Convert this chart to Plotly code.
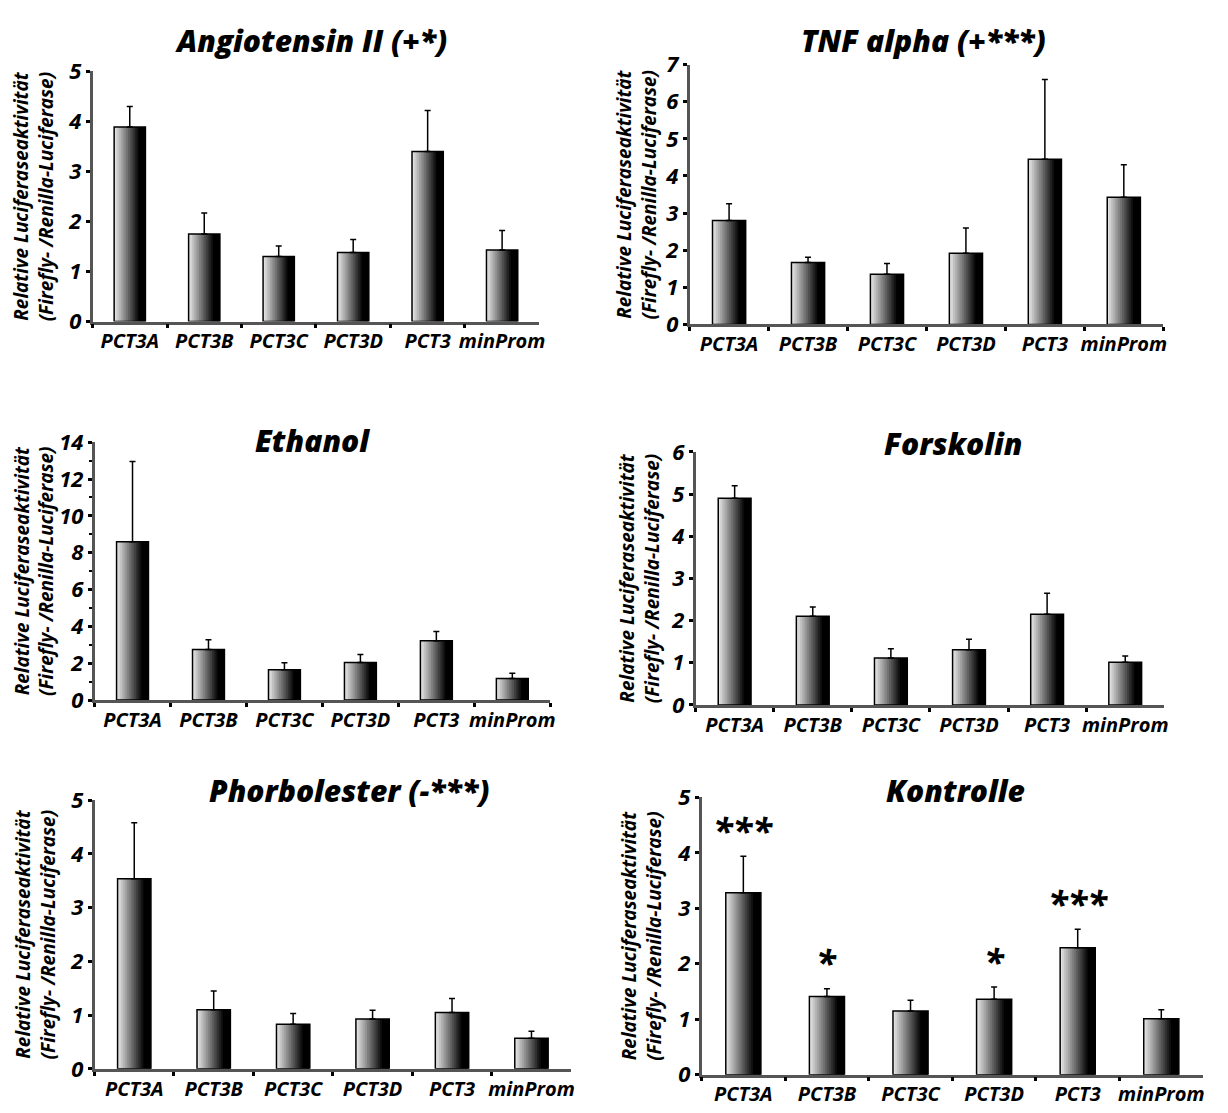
import plotly.graph_objects as go

categories = ["PCT3A", "PCT3B", "PCT3C", "PCT3D", "PCT3", "minProm"]

ang_mean = [3.89, 1.75, 1.30, 1.38, 3.40, 1.43]
ang_top = [4.30, 2.17, 1.51, 1.64, 4.22, 1.82]

tnf_mean = [2.80, 1.67, 1.35, 1.92, 4.45, 3.43]
tnf_top = [3.25, 1.81, 1.64, 2.60, 6.60, 4.30]

eth_mean = [8.60, 2.75, 1.65, 2.04, 3.22, 1.17]
eth_top = [12.95, 3.28, 2.03, 2.47, 3.72, 1.45]

fors_mean = [4.90, 2.10, 1.11, 1.31, 2.15, 1.01]
fors_top = [5.20, 2.32, 1.33, 1.56, 2.65, 1.16]

phor_mean = [3.54, 1.10, 0.83, 0.93, 1.05, 0.57]
phor_top = [4.58, 1.45, 1.03, 1.09, 1.31, 0.70]

kon_mean = [3.28, 1.41, 1.15, 1.36, 2.29, 1.01]
kon_top = [3.94, 1.55, 1.34, 1.58, 2.62, 1.17]
kon_sig = ["***", "*", "", "*", "***", ""]

titles = ["Angiotensin II (+*)", "TNF alpha (+***)", "Ethanol", "Forskolin",
          "Phorbolester (-***)", "Kontrolle"]
y_max = [5, 7, 14, 6, 5, 5]
y_dtick = [1, 1, 2, 1, 1, 1]
ytitle = "Relative Luciferaseaktivität<br>(Firefly- /Renilla-Luciferase)"

W, H = 1228, 1113
# panel boxes in pixels: (x_left, x_right, y_top, y_bottom)
boxes = [(93, 542, 57, 314), (693, 1169, 50, 317), (95, 553, 438, 703),
         (699, 1170, 448, 708), (95, 574, 806, 1082), (705, 1209, 803, 1088)]
title_pos = [(313, 25), (928, 25), (314, 436), (958, 439), (351, 796), (960, 796)]
ytitle_x = [34, 640, 34, 643, 36, 644]

panels = [(ang_mean, ang_top), (tnf_mean, tnf_top), (eth_mean, eth_top),
          (fors_mean, fors_top), (phor_mean, phor_top), (kon_mean, kon_top)]

FONT = "Open Sans"
bar_w = 0.42
n_strips = 18
step = bar_w / n_strips

fig = go.Figure()
layout = dict(width=W, height=H, margin=dict(l=0, r=0, t=0, b=0),
              paper_bgcolor="white", plot_bgcolor="white",
              showlegend=False, barmode="overlay",
              font=dict(family=FONT, size=18, color="black", weight="bold", style="italic"))
annotations = []

for k, (mean, top) in enumerate(panels):
    sfx = "" if k == 0 else str(k + 1)
    xa, ya = "x" + sfx, "y" + sfx
    err = [t - m for t, m in zip(top, mean)]
    # gradient strips
    for i in range(n_strips):
        t = (i + 0.5) / n_strips
        g = int(round(max(0.0, 235 * (1 - t / 0.8))))
        off = -bar_w / 2 + i * step
        wdt = min(step * 1.6, bar_w / 2 - off)
        fig.add_trace(go.Bar(x=categories, y=mean, xaxis=xa, yaxis=ya,
                             width=wdt, offset=off,
                             marker=dict(color=f"rgb({g},{g},{g})", line=dict(width=0)),
                             hoverinfo="skip"))
    # outline + error bars
    fig.add_trace(go.Bar(x=categories, y=mean, xaxis=xa, yaxis=ya, width=bar_w,
                         marker=dict(color="rgba(0,0,0,0)", line=dict(color="black", width=1.5)),
                         error_y=dict(type="data", symmetric=False, array=err,
                                      arrayminus=[0] * len(err), color="black",
                                      thickness=1.5, width=3)))
    x0, x1, yt, yb = boxes[k]
    layout["xaxis" + sfx] = dict(domain=[x0 / W, x1 / W], anchor=ya, type="category",
                                 range=[-0.5, 5.5], tickson="boundaries", ticks="outside",
                                 ticklen=4, tickwidth=3, tickcolor="black",
                                 showline=True, linecolor="#555", linewidth=2.5,
                                 showgrid=False, zeroline=False, tickangle=0,
                                 tickfont=dict(size=20))
    yax = dict(domain=[1 - yb / H, 1 - yt / H], anchor=xa, range=[0, y_max[k]],
               dtick=y_dtick[k], tick0=0, ticks="outside", ticklen=4, tickwidth=2.5,
               tickcolor="black", showline=True, linecolor="#555", linewidth=2.5,
               showgrid=False, zeroline=False, tickfont=dict(size=22))
    if y_dtick[k] == 2:
        yax["minor"] = dict(dtick=1, ticks="outside", ticklen=3, tickwidth=2, tickcolor="black")
    layout["yaxis" + sfx] = yax
    tx, ty = title_pos[k]
    annotations.append(dict(text=titles[k], x=tx / W, y=1 - ty / H, xref="paper", yref="paper",
                            xanchor="center", yanchor="middle", showarrow=False,
                            font=dict(size=30, family=FONT, weight=800, style="italic")))
    annotations.append(dict(text=ytitle, x=ytitle_x[k] / W, y=1 - (yt + yb) / 2 / H,
                            xref="paper", yref="paper", xanchor="center", yanchor="middle",
                            textangle=-90, showarrow=False,
                            font=dict(size=19, family=FONT, weight="bold", style="italic")))

for c, s, t in zip(categories, kon_sig, kon_top):
    if s:
        annotations.append(dict(text=s, x=c, y=t, xref="x6", yref="y6", xanchor="center",
                                yanchor="middle", yshift=26, showarrow=False,
                                font=dict(size=36, family=FONT, weight="bold", style="italic")))

layout["annotations"] = annotations
fig.update_layout(**layout)
fig.write_html("out.html")
